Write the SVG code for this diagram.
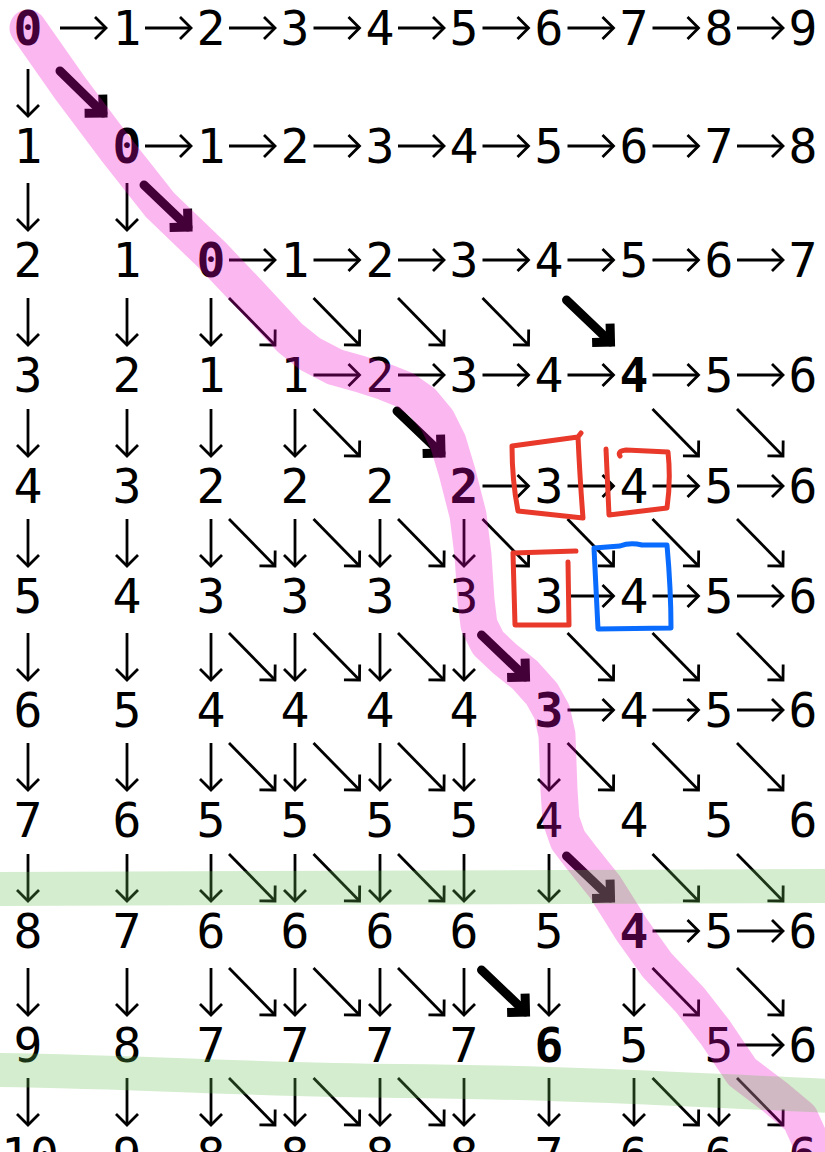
<svg xmlns="http://www.w3.org/2000/svg" width="825" height="1152" viewBox="0 0 825 1152">
<defs>
<style>
text{font-family:"DejaVu Sans Mono","Liberation Mono",monospace;font-size:48px;fill:#000;text-anchor:middle}
.b{font-weight:bold}
.a{fill:none;stroke:#000;stroke-width:2.8;marker-end:url(#h)}
.ab{fill:none;stroke:#000;stroke-width:9;stroke-linecap:round;marker-end:url(#hb)}
.box{fill:none;stroke-width:5;stroke-linecap:round;stroke-linejoin:round}
</style>
<marker id="h" markerUnits="userSpaceOnUse" orient="auto" refX="0" refY="0" markerWidth="30" markerHeight="30" overflow="visible"><path d="M-11,-11 L0,0 L-11,11" fill="none" stroke="#000" stroke-width="2.8"/></marker>
<marker id="hb" markerUnits="userSpaceOnUse" orient="auto" refX="0" refY="0" markerWidth="30" markerHeight="30" overflow="visible"><path d="M-13,-13 L0,0 L-13,13" fill="none" stroke="#000" stroke-width="9" stroke-linejoin="miter"/></marker>
</defs>
<rect width="825" height="1152" fill="#fff"/>
<g id="nodes">
<g id="n0_0"><text class="b" x="28" y="45">0</text></g><g id="n0_1"><text x="127" y="45">1</text></g><g id="n0_2"><text x="211" y="45">2</text></g><g id="n0_3"><text x="295" y="45">3</text></g><g id="n0_4"><text x="380" y="45">4</text></g><g id="n0_5"><text x="464" y="45">5</text></g><g id="n0_6"><text x="549" y="45">6</text></g><g id="n0_7"><text x="634" y="45">7</text></g><g id="n0_8"><text x="719" y="45">8</text></g><g id="n0_9"><text x="803" y="45">9</text></g>
<g id="n1_0"><text x="28" y="163">1</text></g><g id="n1_1"><text class="b" x="127" y="163">0</text></g><g id="n1_2"><text x="211" y="163">1</text></g><g id="n1_3"><text x="295" y="163">2</text></g><g id="n1_4"><text x="380" y="163">3</text></g><g id="n1_5"><text x="464" y="163">4</text></g><g id="n1_6"><text x="549" y="163">5</text></g><g id="n1_7"><text x="634" y="163">6</text></g><g id="n1_8"><text x="719" y="163">7</text></g><g id="n1_9"><text x="803" y="163">8</text></g>
<g id="n2_0"><text x="28" y="277">2</text></g><g id="n2_1"><text x="127" y="277">1</text></g><g id="n2_2"><text class="b" x="211" y="277">0</text></g><g id="n2_3"><text x="295" y="277">1</text></g><g id="n2_4"><text x="380" y="277">2</text></g><g id="n2_5"><text x="464" y="277">3</text></g><g id="n2_6"><text x="549" y="277">4</text></g><g id="n2_7"><text x="634" y="277">5</text></g><g id="n2_8"><text x="719" y="277">6</text></g><g id="n2_9"><text x="803" y="277">7</text></g>
<g id="n3_0"><text x="28" y="392">3</text></g><g id="n3_1"><text x="127" y="392">2</text></g><g id="n3_2"><text x="211" y="392">1</text></g><g id="n3_3"><text x="295" y="392">1</text></g><g id="n3_4"><text x="380" y="392">2</text></g><g id="n3_5"><text x="464" y="392">3</text></g><g id="n3_6"><text x="549" y="392">4</text></g><g id="n3_7"><text class="b" x="634" y="392">4</text></g><g id="n3_8"><text x="719" y="392">5</text></g><g id="n3_9"><text x="803" y="392">6</text></g>
<g id="n4_0"><text x="28" y="503">4</text></g><g id="n4_1"><text x="127" y="503">3</text></g><g id="n4_2"><text x="211" y="503">2</text></g><g id="n4_3"><text x="295" y="503">2</text></g><g id="n4_4"><text x="380" y="503">2</text></g><g id="n4_5"><text class="b" x="464" y="503">2</text></g><g id="n4_6"><text x="549" y="503">3</text></g><g id="n4_7"><text x="634" y="503">4</text></g><g id="n4_8"><text x="719" y="503">5</text></g><g id="n4_9"><text x="803" y="503">6</text></g>
<g id="n5_0"><text x="28" y="613">5</text></g><g id="n5_1"><text x="127" y="613">4</text></g><g id="n5_2"><text x="211" y="613">3</text></g><g id="n5_3"><text x="295" y="613">3</text></g><g id="n5_4"><text x="380" y="613">3</text></g><g id="n5_5"><text x="464" y="613">3</text></g><g id="n5_6"><text x="549" y="613">3</text></g><g id="n5_7"><text x="634" y="613">4</text></g><g id="n5_8"><text x="719" y="613">5</text></g><g id="n5_9"><text x="803" y="613">6</text></g>
<g id="n6_0"><text x="28" y="727">6</text></g><g id="n6_1"><text x="127" y="727">5</text></g><g id="n6_2"><text x="211" y="727">4</text></g><g id="n6_3"><text x="295" y="727">4</text></g><g id="n6_4"><text x="380" y="727">4</text></g><g id="n6_5"><text x="464" y="727">4</text></g><g id="n6_6"><text class="b" x="549" y="727">3</text></g><g id="n6_7"><text x="634" y="727">4</text></g><g id="n6_8"><text x="719" y="727">5</text></g><g id="n6_9"><text x="803" y="727">6</text></g>
<g id="n7_0"><text x="28" y="837">7</text></g><g id="n7_1"><text x="127" y="837">6</text></g><g id="n7_2"><text x="211" y="837">5</text></g><g id="n7_3"><text x="295" y="837">5</text></g><g id="n7_4"><text x="380" y="837">5</text></g><g id="n7_5"><text x="464" y="837">5</text></g><g id="n7_6"><text x="549" y="837">4</text></g><g id="n7_7"><text x="634" y="837">4</text></g><g id="n7_8"><text x="719" y="837">5</text></g><g id="n7_9"><text x="803" y="837">6</text></g>
<g id="n8_0"><text x="28" y="948">8</text></g><g id="n8_1"><text x="127" y="948">7</text></g><g id="n8_2"><text x="211" y="948">6</text></g><g id="n8_3"><text x="295" y="948">6</text></g><g id="n8_4"><text x="380" y="948">6</text></g><g id="n8_5"><text x="464" y="948">6</text></g><g id="n8_6"><text x="549" y="948">5</text></g><g id="n8_7"><text class="b" x="634" y="948">4</text></g><g id="n8_8"><text x="719" y="948">5</text></g><g id="n8_9"><text x="803" y="948">6</text></g>
<g id="n9_0"><text x="28" y="1062">9</text></g><g id="n9_1"><text x="127" y="1062">8</text></g><g id="n9_2"><text x="211" y="1062">7</text></g><g id="n9_3"><text x="295" y="1062">7</text></g><g id="n9_4"><text x="380" y="1062">7</text></g><g id="n9_5"><text x="464" y="1062">7</text></g><g id="n9_6"><text class="b" x="549" y="1062">6</text></g><g id="n9_7"><text x="634" y="1062">5</text></g><g id="n9_8"><text x="719" y="1062">5</text></g><g id="n9_9"><text x="803" y="1062">6</text></g>
<g id="n10_0"><text x="30" y="1172">10</text></g><g id="n10_1"><text x="127" y="1172">9</text></g><g id="n10_2"><text x="211" y="1172">8</text></g><g id="n10_3"><text x="295" y="1172">8</text></g><g id="n10_4"><text x="380" y="1172">8</text></g><g id="n10_5"><text x="464" y="1172">8</text></g><g id="n10_6"><text x="549" y="1172">7</text></g><g id="n10_7"><text x="634" y="1172">6</text></g><g id="n10_8"><text x="719" y="1172">6</text></g><g id="n10_9"><text x="803" y="1172">6</text></g>
</g>
<g id="connectors">
<path class="a" d="M60,28H106"/><path class="a" d="M145,28H191"/><path class="a" d="M229,28H275"/><path class="a" d="M313.5,28H359.5"/><path class="a" d="M398,28H444"/><path class="a" d="M482.5,28H528.5"/><path class="a" d="M567.5,28H613.5"/><path class="a" d="M652.5,28H698.5"/><path class="a" d="M737,28H783"/>
<path class="a" d="M145,146H191"/><path class="a" d="M229,146H275"/><path class="a" d="M313.5,146H359.5"/><path class="a" d="M398,146H444"/><path class="a" d="M482.5,146H528.5"/><path class="a" d="M567.5,146H613.5"/><path class="a" d="M652.5,146H698.5"/><path class="a" d="M737,146H783"/>
<path class="a" d="M229,260H275"/><path class="a" d="M313.5,260H359.5"/><path class="a" d="M398,260H444"/><path class="a" d="M482.5,260H528.5"/><path class="a" d="M567.5,260H613.5"/><path class="a" d="M652.5,260H698.5"/><path class="a" d="M737,260H783"/>
<path class="a" d="M313.5,375H359.5"/><path class="a" d="M398,375H444"/><path class="a" d="M482.5,375H528.5"/><path class="a" d="M567.5,375H613.5"/><path class="a" d="M652.5,375H698.5"/><path class="a" d="M737,375H783"/>
<path class="a" d="M482.5,486H528.5"/><path class="a" d="M567.5,486H613.5"/><path class="a" d="M652.5,486H698.5"/><path class="a" d="M737,486H783"/>
<path class="a" d="M567.5,596H613.5"/><path class="a" d="M652.5,596H698.5"/><path class="a" d="M737,596H783"/>
<path class="a" d="M567.5,710H613.5"/><path class="a" d="M652.5,710H698.5"/><path class="a" d="M737,710H783"/>
<path class="a" d="M652.5,931H698.5"/><path class="a" d="M737,931H783"/>
<path class="a" d="M737,1045H783"/>
<path class="a" d="M28,69V116"/>
<path class="a" d="M28,183V230"/><path class="a" d="M127,183V230"/>
<path class="a" d="M28,298V345"/><path class="a" d="M127,298V345"/><path class="a" d="M211,298V345"/>
<path class="a" d="M28,409V456"/><path class="a" d="M127,409V456"/><path class="a" d="M211,409V456"/><path class="a" d="M295,409V456"/>
<path class="a" d="M28,519V566"/><path class="a" d="M127,519V566"/><path class="a" d="M211,519V566"/><path class="a" d="M295,519V566"/><path class="a" d="M380,519V566"/><path class="a" d="M464,519V566"/>
<path class="a" d="M28,633V680"/><path class="a" d="M127,633V680"/><path class="a" d="M211,633V680"/><path class="a" d="M295,633V680"/><path class="a" d="M380,633V680"/><path class="a" d="M464,633V680"/>
<path class="a" d="M28,743V790"/><path class="a" d="M127,743V790"/><path class="a" d="M211,743V790"/><path class="a" d="M295,743V790"/><path class="a" d="M380,743V790"/><path class="a" d="M464,743V790"/><path class="a" d="M549,743V790"/>
<path class="a" d="M28,854V901"/><path class="a" d="M127,854V901"/><path class="a" d="M211,854V901"/><path class="a" d="M295,854V901"/><path class="a" d="M380,854V901"/><path class="a" d="M464,854V901"/><path class="a" d="M549,854V901"/>
<path class="a" d="M28,968V1015"/><path class="a" d="M127,968V1015"/><path class="a" d="M211,968V1015"/><path class="a" d="M295,968V1015"/><path class="a" d="M380,968V1015"/><path class="a" d="M464,968V1015"/><path class="a" d="M549,968V1015"/><path class="a" d="M634,968V1015"/>
<path class="a" d="M28,1078V1125"/><path class="a" d="M127,1078V1125"/><path class="a" d="M211,1078V1125"/><path class="a" d="M295,1078V1125"/><path class="a" d="M380,1078V1125"/><path class="a" d="M464,1078V1125"/><path class="a" d="M549,1078V1125"/><path class="a" d="M634,1078V1125"/><path class="a" d="M719,1078V1125"/>
<path class="a" d="M229,298L275,345"/><path class="a" d="M313.5,298L359.5,345"/><path class="a" d="M398,298L444,345"/><path class="a" d="M482.5,298L528.5,345"/>
<path class="a" d="M313.5,409L359.5,456"/><path class="a" d="M652.5,409L698.5,456"/><path class="a" d="M737,409L783,456"/>
<path class="a" d="M229,519L275,566"/><path class="a" d="M313.5,519L359.5,566"/><path class="a" d="M398,519L444,566"/><path class="a" d="M482.5,519L528.5,566"/><path class="a" d="M567.5,519L613.5,566"/><path class="a" d="M652.5,519L698.5,566"/><path class="a" d="M737,519L783,566"/>
<path class="a" d="M229,633L275,680"/><path class="a" d="M313.5,633L359.5,680"/><path class="a" d="M398,633L444,680"/><path class="a" d="M567.5,633L613.5,680"/><path class="a" d="M652.5,633L698.5,680"/><path class="a" d="M737,633L783,680"/>
<path class="a" d="M229,743L275,790"/><path class="a" d="M313.5,743L359.5,790"/><path class="a" d="M398,743L444,790"/><path class="a" d="M567.5,743L613.5,790"/><path class="a" d="M652.5,743L698.5,790"/><path class="a" d="M737,743L783,790"/>
<path class="a" d="M229,854L275,901"/><path class="a" d="M313.5,854L359.5,901"/><path class="a" d="M398,854L444,901"/><path class="a" d="M652.5,854L698.5,901"/><path class="a" d="M737,854L783,901"/>
<path class="a" d="M229,968L275,1015"/><path class="a" d="M313.5,968L359.5,1015"/><path class="a" d="M398,968L444,1015"/><path class="a" d="M652.5,968L698.5,1015"/><path class="a" d="M737,968L783,1015"/>
<path class="a" d="M229,1078L275,1125"/><path class="a" d="M313.5,1078L359.5,1125"/><path class="a" d="M398,1078L444,1125"/><path class="a" d="M652.5,1078L698.5,1125"/><path class="a" d="M737,1078L783,1125"/>
<path class="ab" d="M60,71L103,113"/>
<path class="ab" d="M144,185L188,227"/>
<path class="ab" d="M566.5,300L610.5,342"/>
<path class="ab" d="M397,411L441,453"/>
<path class="ab" d="M481.5,635L525.5,677"/>
<path class="ab" d="M566.5,856L610.5,898"/>
<path class="ab" d="M481.5,970L525.5,1012"/>
</g>
<g id="highlights">
<path d="M28,28 L70,88 L115,148 L160,205 L212,255 L250,295 L290,338 L310,354 L335,367 L360,374 L385,382 L405,390 L422,402 L437,420 L448,442 L457,472 L468,515 L473,555 L476,600 L479,625 L488,643 L505,659 L525,675 L542,694 L552,712 L557,735 L559,790 L561,820 L568,840 L581,857 L605,887 L632,930 L657,965 L690,1000 L715,1032 L742,1072 L775,1097 L800,1118 L810,1140 L812,1160" fill="none" stroke="rgb(240,0,200)" stroke-opacity="0.28" stroke-width="37" stroke-linecap="round" stroke-linejoin="round"/>
<path d="M-5,889 L830,886" fill="none" stroke="rgb(100,190,80)" stroke-opacity="0.28" stroke-width="34"/>
<path d="M-5,1070 C150,1072 250,1080 400,1081 S700,1090 830,1096" fill="none" stroke="rgb(100,190,80)" stroke-opacity="0.28" stroke-width="34"/>
</g>
<g id="marks">
<path class="box" stroke="#E8392B" d="M512,446 L578,437 L581,433 M578,437 Q580,480 583,518 L518,511 Q512,480 512,446"/>
<path class="box" stroke="#E8392B" d="M606,449 L609,515 L667,508 Q671,480 668,452 L626,450 Q617,451 620,456"/>
<path class="box" stroke="#E8392B" d="M576,551 L513,553 L515,625 L569,625 L568,562"/>
<path class="box" stroke="#0A6BFF" d="M594,548 L620,546 Q630,542 642,545 L667,545 Q671,590 671,628 L598,629 Z"/>
</g>
</svg>
